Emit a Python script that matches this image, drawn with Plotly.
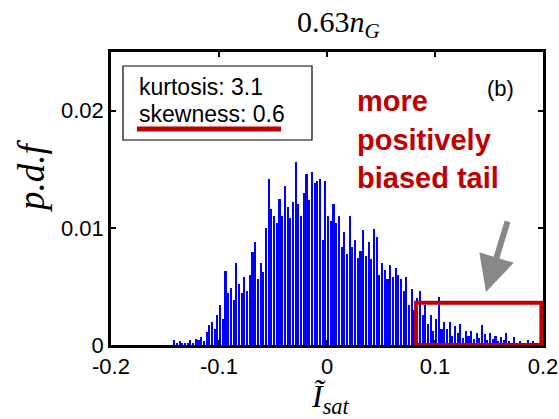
import plotly.graph_objects as go

# Histogram bins (left edge of first bin and bin width)
bin_start = -0.15
bin_width = 0.0025

# p.d.f values per bin
pdf = [
    0.0, 0.0, 0.0, 0.0004,
    0.0001, 0.0003, 0.0001, 0.0002,
    0.0002, 0.0004, 0.0002, 0.0005,
    0.0004, 0.0007, 0.0003, 0.0011,
    0.0017, 0.0020, 0.0014, 0.0026,
    0.0034, 0.0022, 0.0063, 0.0044,
    0.0049, 0.0038, 0.0070, 0.0052,
    0.0044, 0.0058, 0.0046, 0.0060,
    0.0079, 0.0088, 0.0056, 0.0070,
    0.0062, 0.0100, 0.0142, 0.0116,
    0.0110, 0.0104, 0.0125, 0.0110,
    0.0136, 0.0118, 0.0108, 0.0122,
    0.0156, 0.0120, 0.0110, 0.0130,
    0.0146, 0.0124, 0.0148, 0.0138,
    0.0140, 0.0142, 0.0090, 0.0140,
    0.0110, 0.0106, 0.0120, 0.0104,
    0.0110, 0.0084, 0.0096, 0.0078,
    0.0110, 0.0084, 0.0090, 0.0074,
    0.0080, 0.0098, 0.0076, 0.0088,
    0.0073, 0.0099, 0.0092, 0.0060,
    0.0070, 0.0064, 0.0056, 0.0068,
    0.0058, 0.0066, 0.0060, 0.0056,
    0.0046, 0.0058, 0.0034, 0.0048,
    0.0030, 0.0040, 0.0046, 0.0026,
    0.0034, 0.0018, 0.0026, 0.0012,
    0.0022, 0.0041, 0.0014, 0.0020,
    0.0014, 0.0020, 0.0008, 0.0016,
    0.0010, 0.0018, 0.0006, 0.0012,
    0.0008, 0.0012, 0.0005, 0.0010,
    0.0006, 0.0017, 0.0009, 0.0004,
    0.0010, 0.0005, 0.0008, 0.0003,
    0.0007, 0.0004, 0.0010, 0.0003,
    0.0002, 0.0007, 0.0001, 0.0003,
    0.0002, 0.0001, 0.0004, 0.0001,
    0.0003, 0.0001, 0.0, 0.0,
]

x_ticks = [-0.2, -0.1, 0, 0.1, 0.2]
x_tick_labels = ["-0.2", "-0.1", "0", "0.1", "0.2"]
y_ticks = [0, 0.01, 0.02]
y_tick_labels = ["0", "0.01", "0.02"]

title_text = "0.63<i>n</i><sub><i>G</i></sub>"
stats_lines = ["kurtosis: 3.1", "skewness: 0.6"]
panel_label = "(b)"
tail_text = ["more", "positively", "biased tail"]
tail_box = [0.0825, 0.1985, 0.0, 0.0036]

centers = [bin_start + bin_width * (i + 0.5) for i in range(len(pdf))]

RED = "#C00000"
fig = go.Figure()
fig.add_trace(go.Bar(x=centers, y=pdf, width=bin_width * 0.6,
                     marker=dict(color="#0000FF", line=dict(width=0)),
                     showlegend=False))

axis_common = dict(showline=True, linecolor="black", linewidth=2.5, mirror="ticks",
                   ticks="inside", ticklen=5, tickwidth=2, tickcolor="black",
                   showgrid=False, zeroline=False, automargin=False,
                   tickfont=dict(family="Liberation Sans, Arial", size=22, color="black"))
fig.update_xaxes(range=[-0.2, 0.2], tickvals=x_ticks, ticktext=x_tick_labels, **axis_common)
fig.update_yaxes(range=[0, 0.025], tickvals=y_ticks, ticktext=y_tick_labels, **axis_common)

W, H = 559, 419
L, R, T, B = 111, 16, 52, 74
pw, ph = W - L - R, H - T - B
def px(x):
    return (x - L) / pw
def py(y):
    return (H - B - y) / ph

serif = "Liberation Serif, Times New Roman, serif"
sans = "Liberation Sans, Arial"
ann = []
def text(s, x, y, size, family, color="black", xanchor="center", angle=0):
    ann.append(dict(text=s, x=px(x), y=py(y), xref="paper", yref="paper",
                    xanchor=xanchor, yanchor="middle", showarrow=False, textangle=angle,
                    font=dict(family=family, size=size, color=color)))

text(title_text, 338, 24, 30, serif)
text("<i>p.d.f</i>", 31, 176, 37, serif, angle=-90)
text("<i>Ĩ</i><sub><i>sat</i></sub>", 330, 398, 32, serif)
for i, s in enumerate(stats_lines):
    text(s, 137, 87 + 27 * i, 23, sans, xanchor="left")
text(panel_label, 500, 88, 22, sans)
for i, s in enumerate(tail_text):
    text("<b>%s</b>" % s, 355, 101 + 38.5 * i, 29, sans, color=RED, xanchor="left")
ann.append(dict(text="", x=px(486), y=py(292), xref="paper", yref="paper",
                ax=22, ay=-72, showarrow=True, arrowhead=2, arrowsize=1.2,
                arrowwidth=6, arrowcolor="#888888"))

shapes = [
    dict(type="rect", xref="paper", yref="paper", x0=px(123), x1=px(312), y0=py(140), y1=py(66),
         line=dict(color="black", width=1.2), fillcolor="white", layer="above"),
    dict(type="line", xref="paper", yref="paper", x0=px(137), x1=px(281), y0=py(129), y1=py(129),
         line=dict(color=RED, width=5)),
    dict(type="rect", xref="x", yref="y", x0=tail_box[0], x1=tail_box[1], y0=tail_box[2], y1=tail_box[3],
         line=dict(color=RED, width=4)),
]

fig.update_layout(width=W, height=H, margin=dict(l=L, r=R, t=T, b=B),
                  paper_bgcolor="white", plot_bgcolor="white",
                  bargap=0, annotations=ann, shapes=shapes)
fig.write_html("out.html")
